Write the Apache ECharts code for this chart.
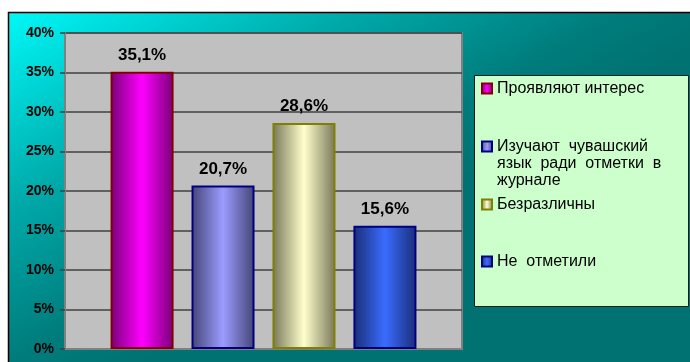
<!DOCTYPE html>
<html>
<head>
<meta charset="utf-8">
<script src="https://cdn.jsdelivr.net/npm/echarts@6/dist/echarts.min.js"></script>
<style>
  html, body { margin: 0; padding: 0; background: #fff; }
  #chart { width: 690px; height: 362px; }
</style>
</head>
<body>
<div id="chart"></div>
<script>
const seriesNames = [
  "Проявляют интерес",
  "Изучают  чувашский\nязык  ради  отметки  в\nжурнале",
  "Безразличны",
  "Не  отметили"
];
const values = [35.1, 20.7, 28.6, 15.6];
const yTicks = [0, 5, 10, 15, 20, 25, 30, 35, 40];

// bar colours: edge, centre, border
const edgeColors = ["#780078", "#444477", "#77775a", "#1a2e78"];
const centerColors = ["#ff00ff", "#9c9cff", "#ffffcc", "#3a6cff"];
const borderColors = ["#800000", "#000080", "#808000", "#000080"];

const font = 'Arial, "Liberation Sans", sans-serif';

function barFill(i) {
  return new echarts.graphic.LinearGradient(0, 0, 1, 0, [
    { offset: 0, color: edgeColors[i] },
    { offset: 0.5, color: centerColors[i] },
    { offset: 1, color: edgeColors[i] }
  ]);
}

const chart = echarts.init(document.getElementById("chart"));

// top of each legend (one legend per series)
const legendTops = [75, 99, 191, 248];

const option = {
  animation: false,
  backgroundColor: "#ffffff",
  graphic: [
    {
      type: "rect",
      z: -10,
      shape: { x: 8.5, y: 12.5, width: 700, height: 360 },
      style: {
        fill: new echarts.graphic.LinearGradient(8, 12, 192, 334, [
          { offset: 0, color: "#00f8f8" },
          { offset: 0.47, color: "#00a8a8" },
          { offset: 0.82, color: "#007c7c" },
          { offset: 1, color: "#007272" }
        ], true),
        stroke: "#000",
        lineWidth: 1.5
      }
    },
    {
      type: "rect",
      z: -9,
      shape: { x: 474.5, y: 75.5, width: 214, height: 231 },
      style: { fill: "#ccffcc", stroke: "#1a1a1a", lineWidth: 1 }
    }
  ],
  legend: seriesNames.map((name, i) => ({
    data: [name],
    left: 476,
    top: legendTops[i],
    orient: "vertical",
    icon: "rect",
    itemWidth: 10,
    itemHeight: 10,
    itemGap: 0,
    textStyle: {
      fontFamily: font,
      fontSize: 16,
      color: "#000",
      lineHeight: 17
    },
    formatter: i === 1 ? (n) => "\n\n" + n : undefined
  })),
  grid: {
    left: 65,
    top: 33,
    width: 397,
    height: 316,
    show: true,
    backgroundColor: "#c0c0c0",
    borderColor: "#808080",
    borderWidth: 2
  },
  xAxis: {
    type: "category",
    data: [""],
    axisLine: { show: true, lineStyle: { color: "#808080", width: 2 } },
    axisTick: { show: false },
    axisLabel: { show: false }
  },
  yAxis: {
    type: "value",
    min: yTicks[0],
    max: yTicks[yTicks.length - 1],
    interval: 5,
    axisLine: { show: true, lineStyle: { color: "#808080", width: 2 } },
    axisTick: { show: true, length: 5, lineStyle: { color: "#404040", width: 1.5 } },
    axisLabel: {
      formatter: "{value}%",
      fontFamily: font,
      fontWeight: "bold",
      fontSize: 14,
      color: "#000",
      margin: 11
    },
    splitLine: { show: true, lineStyle: { color: "#404040", width: 1.5 } }
  },
  series: seriesNames.map((name, i) => ({
    name: name,
    type: "bar",
    data: [values[i]],
    barWidth: 63,
    barGap: "28.5%",
    itemStyle: {
      color: barFill(i),
      borderColor: borderColors[i],
      borderWidth: 2
    },
    label: {
      show: true,
      position: "top",
      distance: 8,
      formatter: (p) => p.value.toFixed(1).replace(".", ",") + "%",
      fontFamily: font,
      fontWeight: "bold",
      fontSize: 17,
      color: "#000"
    }
  }))
};

chart.setOption(option);
</script>
</body>
</html>
